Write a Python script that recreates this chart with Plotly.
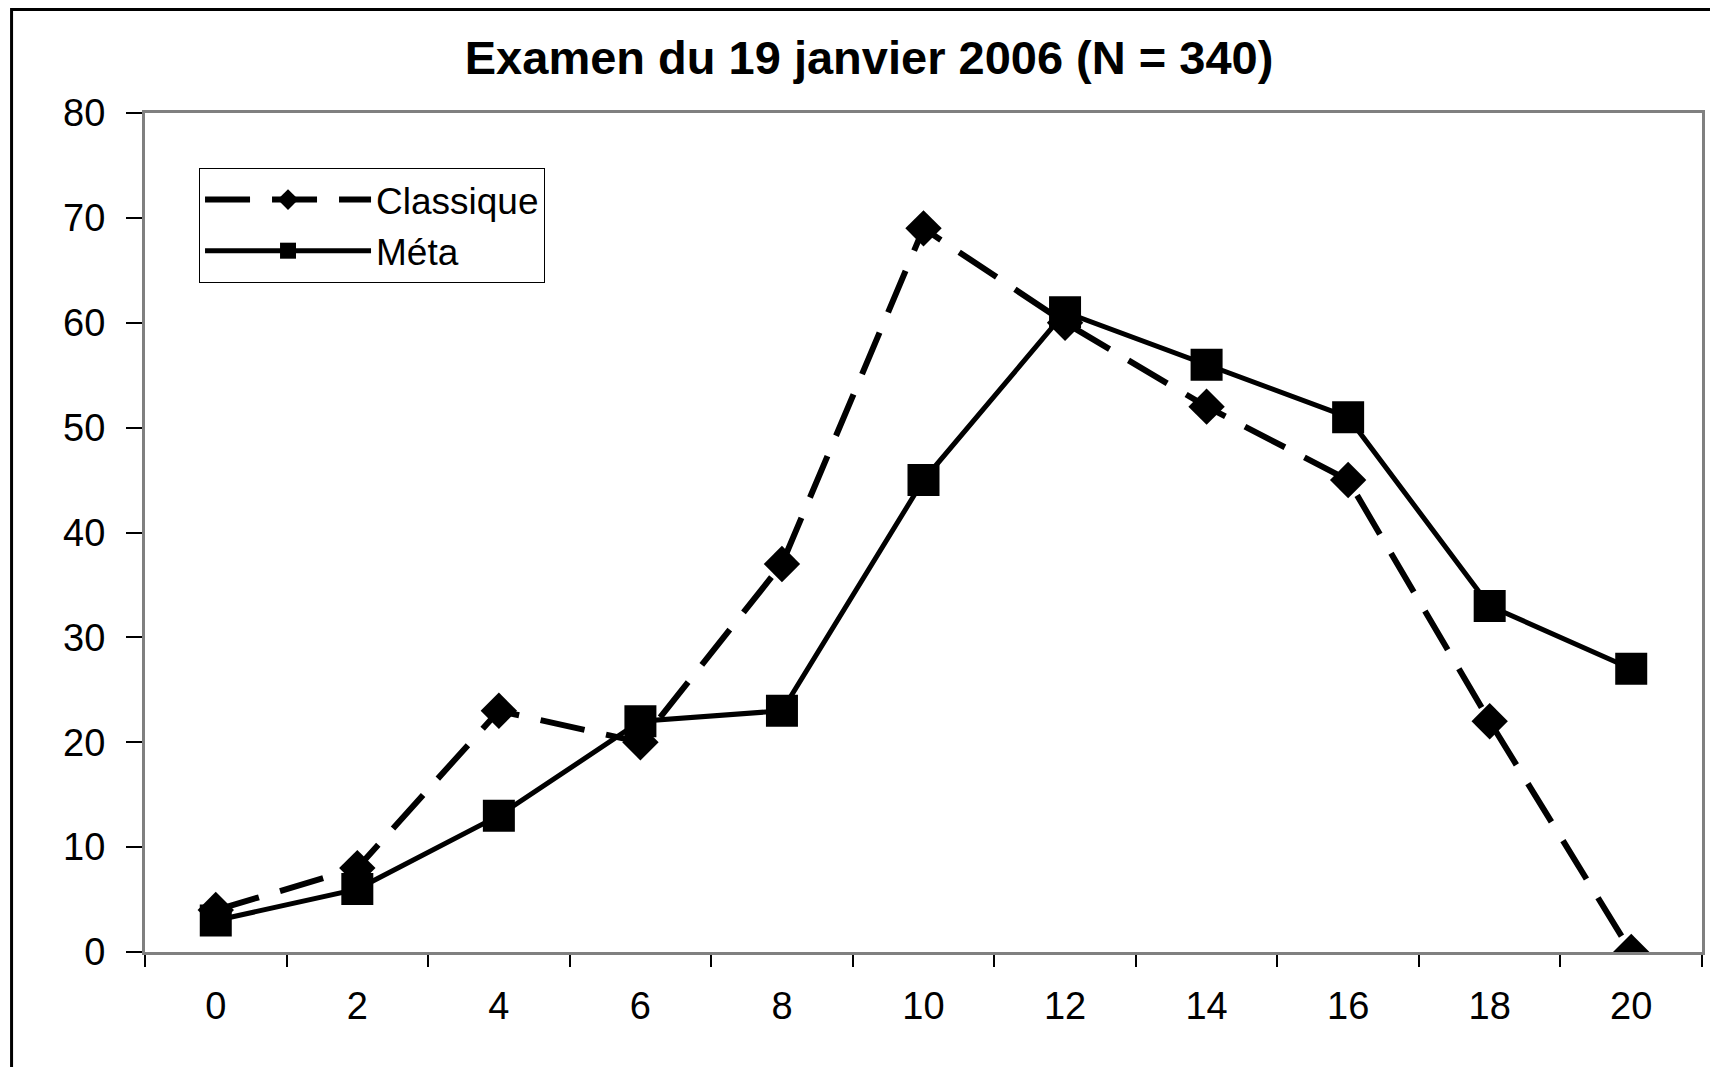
import plotly.graph_objects as go

# Notes (x) et effectifs par version de l'examen
notes = [0, 2, 4, 6, 8, 10, 12, 14, 16, 18, 20]
classique = [4, 8, 23, 20, 37, 69, 60, 52, 45, 22, 0]
meta = [3, 6, 13, 22, 23, 45, 61, 56, 51, 33, 27]

FONT = "Liberation Sans, Arial, sans-serif"
AXIS_GREY = "#808080"

fig = go.Figure()

fig.add_trace(go.Scatter(
    x=[str(n) for n in notes],
    y=classique,
    name="Classique",
    legendgroup="classique",
    mode="lines+markers",
    line=dict(color="black", width=6, dash="45px,22px"),
    marker=dict(symbol="diamond", size=28, color="black"),
))

fig.add_trace(go.Scatter(
    x=[str(n) for n in notes],
    y=meta,
    name="Méta",
    legendgroup="meta",
    mode="lines+markers",
    line=dict(color="black", width=5),
    marker=dict(symbol="square", size=32, color="black"),
))

# Outer frame: only top and left edges are visible, the rest runs off the page
fig.add_shape(
    type="rect", xref="paper", yref="paper",
    x0=-0.0857, x1=1.08, y0=-0.2, y1=1.1234,
    line=dict(color="black", width=3),
    layer="below",
)

# the page body adds an 8px offset, so margins are shifted to compensate
fig.update_layout(
    width=1718,
    height=1067,
    autosize=False,
    paper_bgcolor="white",
    plot_bgcolor="white",
    font=dict(family=FONT, color="black", size=38),
    margin=dict(l=137, r=24, t=105, b=123),
    title=dict(
        text="<b>Examen du 19 janvier 2006 (N = 340)</b>",
        font=dict(family=FONT, size=47, color="black"),
        x=0.5012, xref="container", xanchor="center",
        y=1 - 50 / 1067, yref="container", yanchor="middle",
    ),
    showlegend=True,
    legend=dict(
        x=0.0347, y=0.9344, xanchor="left", yanchor="top",
        bgcolor="white", bordercolor="black", borderwidth=1,
        font=dict(family=FONT, size=37, color="black"),
        itemwidth=166,
        tracegroupgap=0,
    ),
    xaxis=dict(
        type="category",
        range=[-0.5, 10.5],
        automargin=False,
        showgrid=False,
        zeroline=False,
        showline=True, linecolor=AXIS_GREY, linewidth=3, mirror=True,
        ticks="outside", tickson="boundaries", ticklen=12,
        tickcolor="black", tickwidth=1.5,
        ticklabelstandoff=18,
        tickfont=dict(family=FONT, size=38, color="black"),
    ),
    yaxis=dict(
        range=[0, 80],
        dtick=10,
        automargin=False,
        showgrid=False,
        zeroline=False,
        showline=True, linecolor=AXIS_GREY, linewidth=3, mirror=True,
        ticks="outside", ticklen=16,
        tickcolor="black", tickwidth=1.5,
        ticklabelstandoff=13,
        tickfont=dict(family=FONT, size=38, color="black"),
    ),
)

fig.write_html("out.html")
